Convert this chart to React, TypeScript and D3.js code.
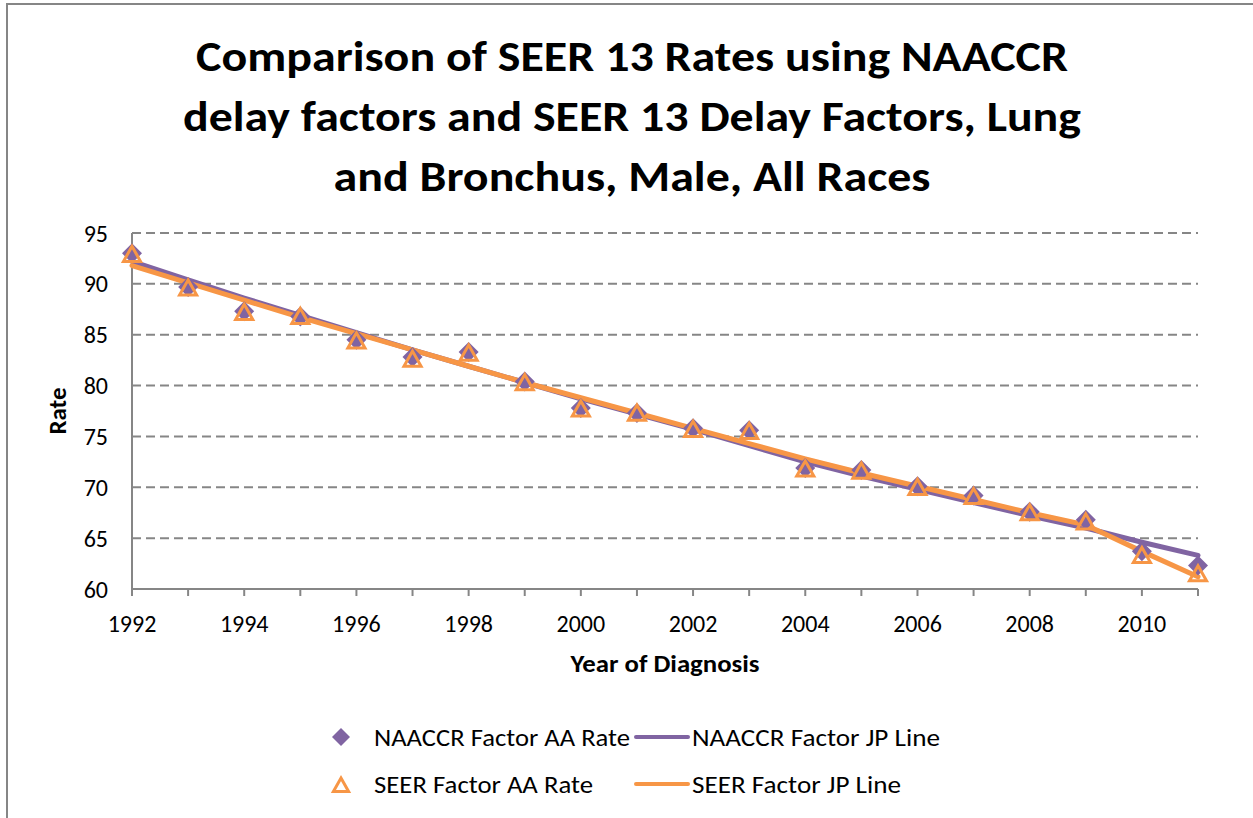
import { useMemo } from "react";
import * as d3 from "d3";

const FONT = "Carlito, Lato, 'Open Sans', sans-serif";
const PURPLE = "#8064a2";
const ORANGE = "#f79646";
const GRID = "#868686";

const years = [
  1992, 1993, 1994, 1995, 1996, 1997, 1998, 1999, 2000, 2001,
  2002, 2003, 2004, 2005, 2006, 2007, 2008, 2009, 2010, 2011,
];
// observed age-adjusted rates
const naaccrRate = [
  93.0, 89.7, 87.3, 86.8, 84.5, 82.8, 83.3, 80.4, 77.8, 77.3,
  75.8, 75.6, 71.9, 71.7, 70.1, 69.2, 67.6, 66.8, 63.7, 62.3,
];
const seerRate = [
  92.9, 89.6, 87.2, 86.8, 84.4, 82.6, 83.2, 80.3, 77.7, 77.3,
  75.7, 75.5, 71.8, 71.6, 70.0, 69.1, 67.5, 66.6, 63.3, 61.5,
];
// joinpoint fitted lines
const naaccrJP = [
  92.2, 90.4, 88.6, 86.9, 85.2, 83.5, 81.9, 80.3, 78.7, 77.2,
  75.7, 74.1, 72.5, 71.1, 69.8, 68.5, 67.2, 66.0, 64.6, 63.3,
];
const seerJP = [
  91.8, 90.1, 88.4, 86.7, 85.1, 83.5, 81.9, 80.3, 78.8, 77.3,
  75.8, 74.3, 72.8, 71.4, 70.1, 68.8, 67.5, 66.3, 63.7, 61.2,
];
const yTicks = [60, 65, 70, 75, 80, 85, 90, 95];
const xLabels = [1992, 1994, 1996, 1998, 2000, 2002, 2004, 2006, 2008, 2010];
const titleLines = [
  "Comparison of SEER 13 Rates using NAACCR",
  "delay factors and SEER 13 Delay Factors, Lung",
  "and Bronchus, Male, All Races",
];
const titleWidths = [872, 898, 597];

const W = 1253;
const H = 818;
const PLOT = { left: 132, right: 1198, top: 233, bottom: 589 };

function diamond(cx: number, cy: number, r: number) {
  return `M${cx},${cy - r}L${cx + r},${cy}L${cx},${cy + r}L${cx - r},${cy}Z`;
}
function triangle(cx: number, cy: number, r: number) {
  return `M${cx},${cy - r}L${cx + r * 0.95},${cy + r * 0.68}L${cx - r * 0.95},${cy + r * 0.68}Z`;
}

export default function App() {
  const x = useMemo(
    () => d3.scaleLinear().domain([1992, 2011]).range([PLOT.left, PLOT.right]),
    []
  );
  const y = useMemo(
    () => d3.scaleLinear().domain([60, 95]).range([PLOT.bottom, PLOT.top]),
    []
  );

  const line = d3
    .line<number>()
    .x((_, i) => x(years[i]))
    .y((d) => y(d));

  return (
    <svg
      width={W}
      height={H}
      style={{ position: "absolute", left: 0, top: 0, background: "#fff" }}
      fontFamily={FONT}
    >
      <rect x={7} y={4} width={W + 20} height={H + 20} fill="#fff" stroke={GRID} strokeWidth={2} />

      {titleLines.map((t, i) => (
        <text
          key={t}
          x={632}
          y={71 + i * 60}
          textAnchor="middle"
          fontSize={43}
          fontWeight="bold"
          textLength={titleWidths[i]}
          lengthAdjust="spacingAndGlyphs"
        >
          {t}
        </text>
      ))}

      {/* gridlines */}
      {yTicks
        .filter((t) => t > 60)
        .map((t) => (
          <line
            key={t}
            x1={PLOT.left}
            x2={PLOT.right}
            y1={y(t)}
            y2={y(t)}
            stroke={GRID}
            strokeWidth={2}
            strokeDasharray="9 5"
          />
        ))}

      {/* axes */}
      <line x1={PLOT.left} x2={PLOT.left} y1={PLOT.top} y2={PLOT.bottom} stroke={GRID} strokeWidth={2} />
      <line x1={PLOT.left} x2={PLOT.right} y1={PLOT.bottom} y2={PLOT.bottom} stroke={GRID} strokeWidth={2} />
      {years.map((yr) => (
        <line key={yr} x1={x(yr)} x2={x(yr)} y1={PLOT.bottom} y2={PLOT.bottom + 7} stroke={GRID} strokeWidth={2} />
      ))}

      {yTicks.map((t) => (
        <text key={t} x={108} y={y(t)} textAnchor="end" dominantBaseline="central" fontSize={24}>
          {t}
        </text>
      ))}
      {xLabels.map((yr) => (
        <text key={yr} x={x(yr)} y={632} textAnchor="middle" fontSize={24}>
          {yr}
        </text>
      ))}

      <text x={665} y={672} textAnchor="middle" fontSize={25} fontWeight="bold" textLength={189} lengthAdjust="spacingAndGlyphs">
        Year of Diagnosis
      </text>
      <text
        transform={`translate(66,411) rotate(-90)`}
        textAnchor="middle"
        fontSize={25}
        fontWeight="bold"
      >
        Rate
      </text>

      {/* joinpoint lines */}
      <path d={line(naaccrJP) ?? ""} fill="none" stroke={PURPLE} strokeWidth={5} strokeLinejoin="round" strokeLinecap="round" />
      <path d={line(seerJP) ?? ""} fill="none" stroke={ORANGE} strokeWidth={5} strokeLinejoin="round" strokeLinecap="round" />

      {/* observed rates */}
      {naaccrRate.map((v, i) => (
        <path key={"n" + i} d={diamond(x(years[i]), y(v), 10)} fill={PURPLE} />
      ))}
      {seerRate.map((v, i) => (
        <path
          key={"s" + i}
          d={triangle(x(years[i]), y(v) + 1, 9)}
          fill="none"
          stroke={ORANGE}
          strokeWidth={3}
          strokeLinejoin="miter"
        />
      ))}

      {/* legend */}
      <g fontSize={25}>
        <path d={diamond(341, 737, 9)} fill={PURPLE} />
        <text x={374} y={737} dominantBaseline="central" textLength={256} lengthAdjust="spacingAndGlyphs">NAACCR Factor AA Rate</text>
        <line x1={636} x2={688} y1={737} y2={737} stroke={PURPLE} strokeWidth={4} strokeLinecap="round" />
        <text x={692} y={737} dominantBaseline="central" textLength={248} lengthAdjust="spacingAndGlyphs">NAACCR Factor JP Line</text>

        <path d={triangle(341, 786, 8)} fill="none" stroke={ORANGE} strokeWidth={3} />
        <text x={374} y={784} dominantBaseline="central" textLength={219} lengthAdjust="spacingAndGlyphs">SEER Factor AA Rate</text>
        <line x1={636} x2={688} y1={784} y2={784} stroke={ORANGE} strokeWidth={4} strokeLinecap="round" />
        <text x={692} y={784} dominantBaseline="central" textLength={209} lengthAdjust="spacingAndGlyphs">SEER Factor JP Line</text>
      </g>
    </svg>
  );
}
